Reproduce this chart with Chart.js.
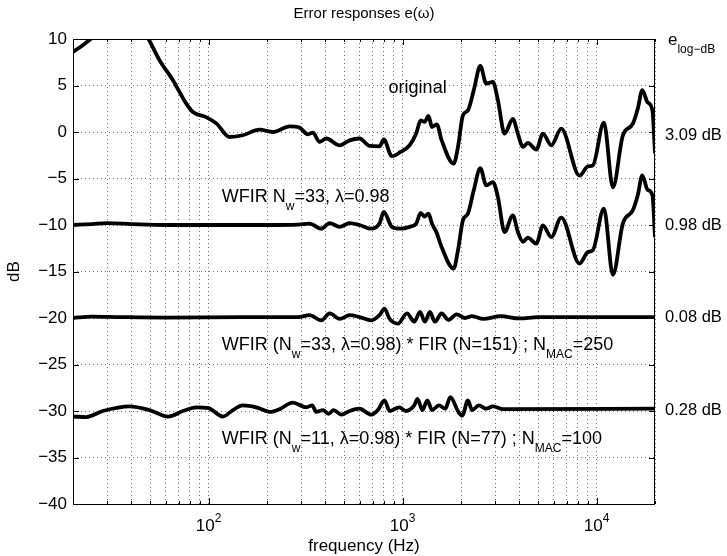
<!DOCTYPE html>
<html>
<head>
<meta charset="utf-8">
<script src="https://cdn.jsdelivr.net/npm/chart.js@4.4.1/dist/chart.umd.min.js"></script>
<style>
    body { margin: 0; background: #fff; }
    #wrap { width: 727px; height: 556px; }
</style>
</head>
<body>
<div id="wrap"><canvas id="chart"></canvas></div>
<script>
// ---------- DATA ----------
const freqOriginal = [20, 23, 25.3, 30, 36, 42, 48.7, 55.9, 65.5, 76.7, 83, 97, 110, 128, 150, 183, 214, 262, 294, 325,
    345, 373, 404, 474, 533, 600, 676, 760, 800, 880, 975, 1087, 1175, 1240, 1297, 1360, 1417, 1500, 1590, 1832,
    1930, 2046, 2172, 2327, 2515, 2700, 2920, 3100, 3355, 3700, 3930, 4170, 4420, 4890, 5290, 5840, 6570, 8170, 9020, 9570,
    10900, 12140, 13650, 15380, 16300, 17200, 18300, 19400, 20000];
const dbOriginal = [8.6, 9.5, 10.2, 11.8, 12.6, 12.2, 10.1, 7.7, 5.56, 3.05, 2.15, 1.6, 0.9, -0.54, -0.35, 0.26, 0.0, 0.6, 0.47, -0.25,
    -0.06, -1.07, -0.7, -1.43, -0.9, -0.7, -1.5, -1.55, -0.8, -2.6, -2.15, -1.43, -0.17, 1.26, 1.08, 1.72, 0.54, 0.83, -0.9, -3.4,
    -1.6, 1.8, 2.33, 4.48, 7.1, 5.2, 5.38, 3.4, -0.17, 1.4, -0.2, -1.6, -1.18, -1.9, -0.17, -1.43, 0.36, -4.7, -3.7, -3.58,
    1.0, -5.95, -0.4, 0.9, 2.5, 4.5, 3.2, 2.3, -2.3];

const freqWfir33 = [20, 25, 30, 40, 60, 100, 200, 290, 331, 381, 421, 474, 533, 600, 690, 760, 800, 880, 975, 1087,
    1175, 1240, 1297, 1360, 1417, 1500, 1590, 1832, 1930, 2046, 2172, 2327, 2515, 2700, 2920, 3100, 3355, 3700, 3930, 4170,
    4420, 4890, 5290, 5840, 6570, 8170, 9020, 9570, 10900, 12140, 13650, 15380, 16300, 17200, 18300, 19400, 20000];
const dbWfir33 = [-10.0, -9.9, -9.8, -9.9, -10.0, -10.0, -10.0, -9.95, -9.85, -10.4, -9.8, -10.2, -9.8, -10.0, -10.4, -9.85, -8.6, -10.2, -10.4, -10.2,
    -9.85, -8.7, -9.1, -8.77, -9.85, -10.86, -12.4, -14.7, -12.7, -9.5, -8.77, -6.27, -3.9, -5.73, -5.38, -7.0, -10.75, -8.96, -10.75, -11.8,
    -11.36, -12.0, -10.03, -11.3, -9.2, -14.15, -12.9, -12.7, -8.24, -15.35, -9.85, -8.4, -6.8, -4.66, -6.2, -6.8, -11.3];

const freqFir151 = [20, 25, 35, 60, 150, 290, 331, 381, 421, 474, 533, 600, 690, 760, 807, 857, 946, 1054, 1148, 1230,
    1303, 1383, 1467, 1588, 1722, 1900, 2100, 2280, 2600, 3200, 4000, 5000, 20000];
const dbFir151 = [-20.0, -19.85, -19.9, -19.95, -19.9, -19.9, -19.7, -20.25, -19.5, -20.1, -19.7, -19.9, -20.25, -19.7, -19.0, -20.1, -20.6, -19.5, -20.4, -19.35,
    -20.4, -19.35, -20.4, -19.5, -20.2, -19.6, -20.0, -19.8, -20.1, -19.8, -20.05, -19.9, -19.9];

const freqFir77 = [20, 23.4, 28.5, 39, 49.6, 61.7, 73.8, 86.4, 100, 118.5, 133.5, 150, 176, 210, 232, 272, 319, 342, 359, 389,
    415, 441, 484, 533, 600, 690, 746, 807, 857, 961, 1040, 1148, 1193, 1265, 1342, 1417, 1539, 1660, 1762, 1940,
    2030, 2172, 2280, 2474, 2700, 2920, 3300, 20000];
const dbFir77 = [-30.6, -30.65, -30.0, -29.5, -29.9, -30.6, -30.0, -29.6, -29.7, -30.6, -29.9, -29.4, -29.6, -30.1, -29.8, -29.1, -29.6, -29.4, -30.1, -29.9,
    -30.3, -29.9, -30.4, -30.0, -29.75, -30.4, -29.9, -28.85, -30.0, -29.6, -30.0, -29.4, -28.7, -29.9, -28.85, -29.9, -29.4, -29.75, -28.5, -30.1,
    -30.5, -28.85, -29.9, -29.4, -29.75, -29.5, -29.8, -29.75];

// error values written at the right of the axes
const errorValues = ['3.09 dB', '0.98 dB', '0.08 dB', '0.28 dB'];

// ticks
const gridFreqs = [20, 30, 40, 50, 60, 70, 80, 90, 100, 200, 300, 400, 500, 600, 700, 800, 900,
    1000, 2000, 3000, 4000, 5000, 6000, 7000, 8000, 9000, 10000, 20000];
const decadeTicks = [100, 1000, 10000];
const decadeLabels = [['10', '2'], ['10', '3'], ['10', '4']];

// ---------- TEXT HELPERS ----------
const FAMILY = '"Liberation Sans", Arial, Helvetica, sans-serif';
const MAIN = 17, SMALL = 12;

// parts: [text, mode] mode 0 = normal, -1 = subscript, 1 = superscript
function partsWidth(ctx, parts, size) {
    let w = 0;
    parts.forEach(([t, m]) => {
        ctx.font = (m === 0 ? size : SMALL) + 'px ' + FAMILY;
        w += ctx.measureText(t).width;
    });
    return w;
}

function drawParts(ctx, parts, x, y, align, size) {
    size = size || MAIN;
    let cx = x;
    if (align === 'center') cx = x - partsWidth(ctx, parts, size) / 2;
    ctx.textBaseline = 'alphabetic';
    ctx.textAlign = 'left';
    parts.forEach(([t, m]) => {
        ctx.font = (m === 0 ? size : SMALL) + 'px ' + FAMILY;
        const dy = m === -1 ? 8 : (m === 1 ? -9 : 0);
        ctx.fillText(t, cx, y + dy);
        cx += ctx.measureText(t).width;
    });
}

// annotations inside the axes (data coordinates of the left baseline)
const notes = [
    { f: 847, db: 4.15, parts: [['original', 0]] },
    { f: 117, db: -7.5, parts: [['WFIR N', 0], ['w', -1], ['=33, \u03bb=0.98', 0]] },
    { f: 117, db: -23.45, parts: [['WFIR (N', 0], ['w', -1], ['=33, \u03bb=0.98) * FIR (N=151) ; N', 0], ['MAC', -1], ['=250', 0]] },
    { f: 117, db: -33.6, parts: [['WFIR (N', 0], ['w', -1], ['=11, \u03bb=0.98) * FIR (N=77) ; N', 0], ['MAC', -1], ['=100', 0]] }
];
const errorLevels = [-0.85, -10.5, -20.4, -30.4];

// ---------- DRAWING PLUGIN ----------
const decoPlugin = {
    id: 'deco',
    afterDatasetsDraw(chart) {
        const { ctx, chartArea: a, scales: { x, y } } = chart;
        ctx.save();
        ctx.strokeStyle = '#000';
        ctx.lineWidth = 1;

        // box
        ctx.strokeRect(a.left + 0.5, a.top + 0.5, a.right - a.left - 1, a.bottom - a.top);

        // inner ticks
        ctx.beginPath();
        for (let v = -40; v <= 10; v += 5) {
            const py = Math.round(y.getPixelForValue(v)) + 0.5;
            ctx.moveTo(a.left, py); ctx.lineTo(a.left + 6, py);
            ctx.moveTo(a.right, py); ctx.lineTo(a.right - 6, py);
        }
        gridFreqs.forEach(f => {
            const px = Math.round(x.getPixelForValue(f)) + 0.5;
            const len = decadeTicks.includes(f) ? 6 : 3;
            ctx.moveTo(px, a.bottom); ctx.lineTo(px, a.bottom - len);
            ctx.moveTo(px, a.top); ctx.lineTo(px, a.top + len);
        });
        ctx.stroke();

        ctx.fillStyle = '#000';

        // x tick labels 10^n
        decadeTicks.forEach((f, i) => {
            const [b, e] = decadeLabels[i];
            drawParts(ctx, [[b, 0], [e, 1]], x.getPixelForValue(f), a.bottom + 27, 'center');
        });

        // title and axis titles
        const midX = (a.left + a.right) / 2;
        drawParts(ctx, [['Error responses e(\u03c9)', 0]], midX, 18, 'center', 15);
        drawParts(ctx, [['frequency (Hz)', 0]], midX, 551, 'center');
        ctx.save();
        ctx.translate(19, (a.top + a.bottom) / 2);
        ctx.rotate(-Math.PI / 2);
        drawParts(ctx, [['dB', 0]], 0, 0, 'center');
        ctx.restore();

        // annotations
        notes.forEach(n => {
            drawParts(ctx, n.parts, x.getPixelForValue(n.f), y.getPixelForValue(n.db), 'left', 18);
        });

        // right labels
        drawParts(ctx, [['e', 0], ['log\u2212dB', -1]], a.right + 13, 45, 'left');
        errorValues.forEach((t, i) => {
            drawParts(ctx, [[t, 0]], a.right + 10, y.getPixelForValue(errorLevels[i]), 'left', 16.5);
        });
        ctx.restore();
    }
};

// ---------- CHART ----------
function toPoints(fs, ds) {
    return fs.map((f, i) => ({ x: f, y: ds[i] }));
}

function curve(fs, ds) {
    return {
        data: toPoints(fs, ds),
        borderColor: '#000',
        borderWidth: 3.8,
        pointRadius: 0,
        fill: false,
        clip: 0,
        cubicInterpolationMode: 'monotone'
    };
}

const gridStyle = { color: 'rgba(0,0,0,0.55)', lineWidth: 1, drawTicks: false };

const chart = new Chart(document.getElementById('chart'), {
    type: 'line',
    data: {
        datasets: [
            curve(freqOriginal, dbOriginal),
            curve(freqWfir33, dbWfir33),
            curve(freqFir151, dbFir151),
            curve(freqFir77, dbFir77)
        ]
    },
    options: {
        responsive: true,
        maintainAspectRatio: false,
        animation: false,
        events: [],
        layout: { padding: { top: 39, right: 72, left: 0, bottom: 0 } },
        plugins: { legend: { display: false }, tooltip: { enabled: false }, title: { display: false } },
        scales: {
            x: {
                type: 'logarithmic',
                min: 20,
                max: 20000,
                afterBuildTicks: s => { s.ticks = gridFreqs.map(v => ({ value: v })); },
                afterFit: s => { s.height = 52; },
                ticks: { display: false },
                grid: gridStyle,
                border: { display: false, dash: [1, 3] }
            },
            y: {
                min: -40,
                max: 10,
                afterFit: s => { s.width = 73; },
                ticks: {
                    stepSize: 5,
                    padding: 6,
                    color: '#000',
                    font: { family: FAMILY, size: MAIN },
                    callback: v => (v < 0 ? '\u2212' + Math.abs(v) : String(v))
                },
                grid: gridStyle,
                border: { display: false, dash: [1, 3] }
            }
        }
    },
    plugins: [decoPlugin]
});
</script>
</body>
</html>
